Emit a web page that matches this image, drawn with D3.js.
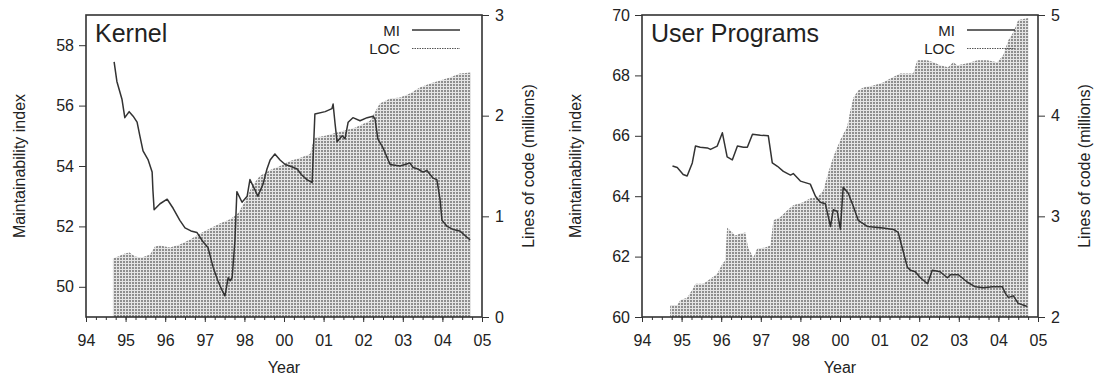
<!DOCTYPE html>
<html>
<head>
<meta charset="utf-8">
<script src="https://cdn.jsdelivr.net/npm/d3@7"></script>
<style>
  body { margin: 0; background: #fff; }
  svg text { font-family: "Liberation Sans", Arial, sans-serif; fill: #222; }
</style>
</head>
<body>
<svg id="chart" width="1094" height="376"></svg>
<script>
// x positions are in tick units: 0 = "94" tick ... 10 = "05" tick (evenly spaced labels)
const yearLabels = ['94', '95', '96', '97', '98', '00', '01', '02', '03', '04', '05'];

const kernelMiT = [0.71, 0.78, 0.91, 0.98, 1.09, 1.19, 1.29, 1.36, 1.44, 1.57, 1.67, 1.69, 1.72, 1.87, 2.05, 2.2,
  2.37, 2.5, 2.65, 2.8, 2.95, 3.08, 3.21, 3.33, 3.43, 3.51, 3.59, 3.64, 3.69, 3.76, 3.81, 3.94, 4.07, 4.14,
  4.27, 4.34, 4.47, 4.57, 4.65, 4.77, 4.9, 5.03, 5.15, 5.33, 5.45, 5.58, 5.71, 5.78, 6.04, 6.21, 6.24, 6.29,
  6.34, 6.47, 6.54, 6.62, 6.74, 6.92, 7.1, 7.25, 7.3, 7.37, 7.5, 7.68, 7.93, 8.18, 8.26, 8.38, 8.51, 8.61,
  8.76, 8.86, 8.94, 8.99, 9.12, 9.27, 9.44, 9.57, 9.7];
const kernelMi = [57.45, 56.8, 56.2, 55.6, 55.8, 55.65, 55.45, 55.0, 54.5, 54.2, 53.8, 53.2, 52.55, 52.75, 52.9, 52.6,
  52.2, 51.95, 51.85, 51.8, 51.5, 51.3, 50.65, 50.2, 49.9, 49.7, 50.3, 50.2, 50.3, 51.5, 53.15, 52.8, 53.0, 53.55,
  53.2, 53.0, 53.4, 53.9, 54.2, 54.4, 54.2, 54.05, 54.0, 53.9, 53.7, 53.55, 53.45, 55.72, 55.8, 55.9, 56.05, 55.4,
  54.8, 55.0, 54.9, 55.45, 55.6, 55.5, 55.6, 55.65, 55.55, 54.9, 54.6, 54.05, 54.0, 54.1, 53.95, 53.9, 53.8, 53.85,
  53.6, 53.55, 52.9, 52.2, 52.0, 51.9, 51.85, 51.7, 51.55];

const kernelLocT = [0.68, 0.81, 0.98, 1.1, 1.24, 1.41, 1.62, 1.74, 1.87, 2.12, 2.37, 2.63, 2.88, 3.13, 3.38, 3.64,
  3.84, 4.02, 4.19, 4.39, 4.65, 4.9, 5.15, 5.4, 5.66, 5.76, 6.04, 6.41, 6.79, 7.17, 7.42, 7.68, 7.93, 8.18,
  8.43, 8.69, 8.94, 9.19, 9.44, 9.72];
const kernelLoc = [0.58, 0.6, 0.63, 0.64, 0.6, 0.59, 0.62, 0.7, 0.71, 0.69, 0.72, 0.77, 0.83, 0.88, 0.93, 0.97,
  1.03, 1.15, 1.3, 1.4, 1.46, 1.5, 1.55, 1.58, 1.62, 1.78, 1.8, 1.84, 1.88, 1.95, 2.12, 2.17, 2.18, 2.22,
  2.28, 2.32, 2.35, 2.38, 2.42, 2.43];

const userMiT = [0.77, 0.89, 1.04, 1.14, 1.27, 1.35, 1.47, 1.65, 1.73, 1.9, 2.03, 2.15, 2.28, 2.41, 2.56, 2.66,
  2.79, 2.99, 3.19, 3.29, 3.42, 3.57, 3.75, 3.82, 4.0, 4.25, 4.38, 4.5, 4.63, 4.76, 4.83, 4.93, 5.01, 5.08,
  5.21, 5.34, 5.46, 5.69, 6.09, 6.35, 6.47, 6.57, 6.7, 6.78, 6.9, 7.03, 7.21, 7.33, 7.53, 7.71, 7.79, 7.99,
  8.22, 8.42, 8.62, 8.85, 9.1, 9.17, 9.25, 9.38, 9.5, 9.73];
const userMi = [65.0, 64.95, 64.72, 64.67, 65.1, 65.66, 65.62, 65.6, 65.55, 65.66, 66.1, 65.3, 65.2, 65.66, 65.62, 65.62,
  66.05, 66.02, 66.0, 65.1, 64.99, 64.82, 64.7, 64.75, 64.5, 64.4, 64.0, 63.8, 63.75, 63.0, 63.55, 63.5, 62.9, 64.3,
  64.1, 63.65, 63.2, 63.0, 62.95, 62.9, 62.8, 62.3, 61.65, 61.55, 61.5, 61.3, 61.1, 61.55, 61.5, 61.3, 61.4, 61.4,
  61.15, 61.0, 60.97, 61.0, 61.0, 60.8, 60.65, 60.7, 60.45, 60.35];

const userLocT = [0.71, 0.89, 0.97, 1.14, 1.27, 1.35, 1.55, 1.73, 1.9, 2.03, 2.1, 2.15, 2.23, 2.36, 2.48, 2.61,
  2.68, 2.81, 2.91, 3.11, 3.24, 3.32, 3.49, 3.67, 3.82, 4.07, 4.25, 4.43, 4.58, 4.7, 4.83, 5.01, 5.18, 5.26,
  5.34, 5.46, 5.59, 5.84, 6.09, 6.27, 6.52, 6.85, 6.95, 7.2, 7.36, 7.53, 7.73, 7.86, 7.96, 8.22, 8.47, 8.72,
  8.97, 9.12, 9.25, 9.38, 9.5, 9.76];
const userLoc = [2.12, 2.12, 2.17, 2.19, 2.27, 2.33, 2.33, 2.38, 2.43, 2.53, 2.56, 2.89, 2.86, 2.81, 2.83, 2.84,
  2.69, 2.59, 2.68, 2.69, 2.71, 2.96, 2.99, 3.06, 3.11, 3.14, 3.18, 3.19, 3.26, 3.43, 3.59, 3.76, 3.89, 4.05,
  4.18, 4.25, 4.28, 4.3, 4.33, 4.37, 4.42, 4.42, 4.55, 4.55, 4.53, 4.5, 4.48, 4.53, 4.5, 4.52, 4.55, 4.55,
  4.53, 4.6, 4.75, 4.83, 4.95, 4.97];

const svg = d3.select('#chart');
const ink = '#333';

// grey fill crossed by thin white lines, like the printed LOC hatch
const defs = svg.append('defs');
const pat = defs.append('pattern')
  .attr('id', 'hatch')
  .attr('patternUnits', 'userSpaceOnUse')
  .attr('width', 3).attr('height', 3);
pat.append('rect').attr('width', 3).attr('height', 3).attr('fill', '#8e8e8e');
pat.append('rect').attr('x', 2).attr('width', 1).attr('height', 3).attr('fill', '#e4e4e4');
pat.append('rect').attr('y', 2).attr('width', 3).attr('height', 1).attr('fill', '#e4e4e4');

function drawPanel(opt) {
  const left = opt.left, right = left + 396, top = 15, bottom = 317;

  const x = d3.scaleLinear().domain([0, 10]).range([left, right]);
  const yMi = d3.scaleLinear().domain(opt.miDomain).range([bottom, top]);
  const yLoc = d3.scaleLinear().domain(opt.locDomain).range([bottom, top]);

  const g = svg.append('g');

  const locPts = opt.locT.map((t, i) => [t, opt.loc[i]]);
  const area = d3.area()
    .x(d => x(d[0]))
    .y0(bottom)
    .y1(d => yLoc(d[1]));
  g.append('path')
    .datum(locPts)
    .attr('d', area)
    .attr('fill', 'url(#hatch)');

  const miPts = opt.miT.map((t, i) => [t, opt.mi[i]]);
  const line = d3.line()
    .x(d => x(d[0]))
    .y(d => yMi(d[1]));
  g.append('path')
    .datum(miPts)
    .attr('d', line)
    .attr('fill', 'none')
    .attr('stroke', ink)
    .attr('stroke-width', 1.5)
    .attr('stroke-linejoin', 'round');

  // frame
  g.append('rect')
    .attr('x', left).attr('y', top)
    .attr('width', right - left).attr('height', bottom - top)
    .attr('fill', 'none')
    .attr('stroke', ink)
    .attr('stroke-width', 1.6);

  // x axis: minor quarter ticks + labelled ticks
  const minor = d3.range(0, 40.01, 1).map(i => i / 4);
  g.append('g')
    .attr('transform', `translate(0,${bottom})`)
    .call(d3.axisBottom(x).tickValues(minor).tickSize(3).tickFormat(''))
    .call(a => a.select('.domain').remove())
    .call(a => a.selectAll('line').attr('stroke', ink));
  const xAxis = g.append('g')
    .attr('transform', `translate(0,${bottom})`)
    .call(d3.axisBottom(x).tickValues(d3.range(0, 11)).tickSize(5).tickPadding(13)
      .tickFormat(i => yearLabels[i]));
  xAxis.select('.domain').remove();
  xAxis.selectAll('line').attr('stroke', ink);
  xAxis.selectAll('text').style('font-size', '16px').attr('fill', '#222');

  const yL = g.append('g')
    .attr('transform', `translate(${left},0)`)
    .call(d3.axisLeft(yMi).tickValues(opt.miTicks).tickSize(7).tickPadding(5).tickFormat(d3.format('d')));
  yL.select('.domain').remove();
  yL.selectAll('line').attr('stroke', ink);
  yL.selectAll('text').style('font-size', '16px').attr('fill', '#222');

  const yR = g.append('g')
    .attr('transform', `translate(${right},0)`)
    .call(d3.axisRight(yLoc).ticks(opt.locDomain[1] - opt.locDomain[0]).tickSize(7).tickPadding(6)
      .tickFormat(d3.format('d')));
  yR.select('.domain').remove();
  yR.selectAll('line').attr('stroke', ink);
  yR.selectAll('text').style('font-size', '16px').attr('fill', '#222');

  // title
  g.append('text')
    .attr('x', left + 9).attr('y', 42)
    .style('font-size', '25px')
    .text(opt.title);

  // legend
  const lg = g.append('g').attr('transform', `translate(${left + opt.legendX},0)`);
  lg.append('text').attr('x', 0).attr('y', 35.5).attr('text-anchor', 'end')
    .style('font-size', '15px').text('MI');
  lg.append('line').attr('x1', 12).attr('x2', 60).attr('y1', 30).attr('y2', 30)
    .attr('stroke', ink).attr('stroke-width', 1.3);
  lg.append('text').attr('x', 0).attr('y', 54).attr('text-anchor', 'end')
    .style('font-size', '15px').text('LOC');
  lg.append('line').attr('x1', 12).attr('x2', 60).attr('y1', 48.5).attr('y2', 48.5)
    .attr('stroke', '#555').attr('stroke-width', 1.1).attr('stroke-dasharray', '1.5,1');

  // axis titles
  g.append('text')
    .attr('transform', `translate(${left - 61},166) rotate(-90)`)
    .attr('text-anchor', 'middle')
    .style('font-size', '16px')
    .text('Maintainability index');
  g.append('text')
    .attr('transform', `translate(${right + 52},166) rotate(-90)`)
    .attr('text-anchor', 'middle')
    .style('font-size', '16px')
    .text('Lines of code (millions)');
  g.append('text')
    .attr('x', (left + right) / 2).attr('y', 373)
    .attr('text-anchor', 'middle')
    .style('font-size', '16px')
    .text('Year');
}

drawPanel({
  left: 86, title: 'Kernel', legendX: 314,
  miDomain: [49, 59], miTicks: [50, 52, 54, 56, 58], locDomain: [0, 3],
  miT: kernelMiT, mi: kernelMi, locT: kernelLocT, loc: kernelLoc
});
drawPanel({
  left: 642, title: 'User Programs', legendX: 313,
  miDomain: [60, 70], miTicks: [60, 62, 64, 66, 68, 70], locDomain: [2, 5],
  miT: userMiT, mi: userMi, locT: userLocT, loc: userLoc
});
</script>
</body>
</html>
